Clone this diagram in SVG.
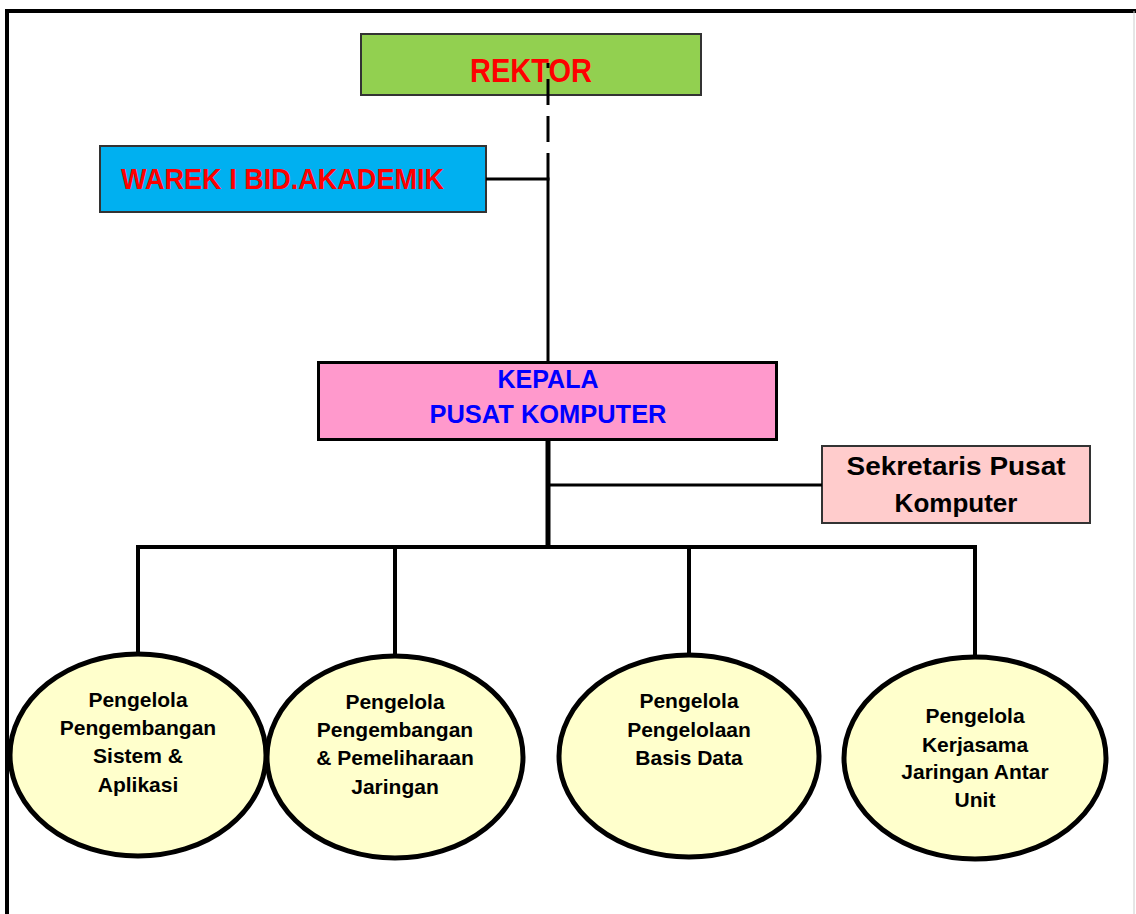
<svg xmlns="http://www.w3.org/2000/svg" width="1136" height="914" viewBox="0 0 1136 914">
<style>
.frame{fill:none;stroke:#000;stroke-width:4}
.conn{fill:none;stroke:#000;stroke-linecap:butt}
.t{font-family:"Liberation Sans",Arial,sans-serif;font-weight:bold;text-anchor:middle}
.red{fill:#FF0000}
.blue{fill:#0000FF}
.blk{fill:#000}
.ell{fill:#FFFFCC;stroke:#000;stroke-width:5}
.et{font-size:21px}
</style>
<rect width="1136" height="914" fill="#fff"/>
<g id="frame">
<path class="frame" d="M7 914 V11 H1136"/>
<line x1="1134" y1="11" x2="1134" y2="914" stroke="#ccc" stroke-width="1"/>
</g>
<g id="rektor">
<rect x="361" y="34" width="340" height="61" fill="#92D050" stroke="#333" stroke-width="2"/>
<text class="t red" x="531" y="82" font-size="34" textLength="122" lengthAdjust="spacingAndGlyphs">REKTOR</text>
</g>
<g id="warek">
<rect x="100" y="146" width="386" height="66" fill="#00B0F0" stroke="#333" stroke-width="2"/>
<text class="t red" x="282.5" y="189" font-size="30" textLength="323" lengthAdjust="spacingAndGlyphs">WAREK I BID.AKADEMIK</text>
</g>
<g id="kepala">
<rect x="318.5" y="362.5" width="458" height="77" fill="#FF99CC" stroke="#000" stroke-width="3"/>
<text class="t blue" x="548" y="388" font-size="25">KEPALA</text>
<text class="t blue" x="548" y="423" font-size="25" textLength="237" lengthAdjust="spacingAndGlyphs">PUSAT KOMPUTER</text>
</g>
<g id="sekretaris">
<rect x="822" y="446" width="268" height="77" fill="#FFCCCC" stroke="#333" stroke-width="2"/>
<text class="t blk" x="956" y="475" font-size="26" textLength="219" lengthAdjust="spacingAndGlyphs">Sekretaris Pusat</text>
<text class="t blk" x="956" y="512" font-size="26">Komputer</text>
</g>
<g id="node1">
<ellipse class="ell" cx="138" cy="755" rx="128" ry="101"/>
<text class="t blk et" x="138" y="707">Pengelola</text>
<text class="t blk et" x="138" y="735">Pengembangan</text>
<text class="t blk et" x="138" y="763">Sistem &amp;</text>
<text class="t blk et" x="138" y="792">Aplikasi</text>
</g>
<g id="node2">
<ellipse class="ell" cx="395" cy="757" rx="128" ry="101"/>
<text class="t blk et" x="395" y="709">Pengelola</text>
<text class="t blk et" x="395" y="737">Pengembangan</text>
<text class="t blk et" x="395" y="765">&amp; Pemeliharaan</text>
<text class="t blk et" x="395" y="794">Jaringan</text>
</g>
<g id="node3">
<ellipse class="ell" cx="689" cy="756" rx="130" ry="101"/>
<text class="t blk et" x="689" y="708">Pengelola</text>
<text class="t blk et" x="689" y="737">Pengelolaan</text>
<text class="t blk et" x="689" y="765">Basis Data</text>
</g>
<g id="node4">
<ellipse class="ell" cx="975" cy="758" rx="131" ry="101"/>
<text class="t blk et" x="975" y="723">Pengelola</text>
<text class="t blk et" x="975" y="752">Kerjasama</text>
<text class="t blk et" x="975" y="779">Jaringan Antar</text>
<text class="t blk et" x="975" y="807">Unit</text>
</g>
<g id="connectors">
<line class="conn" x1="548" y1="63" x2="548" y2="179" stroke-width="3" stroke-dasharray="26 11" stroke-dashoffset="21"/>
<line class="conn" x1="486" y1="179" x2="549.5" y2="179" stroke-width="3"/>
<line class="conn" x1="548" y1="179" x2="548" y2="362" stroke-width="3"/>
<line class="conn" x1="548" y1="441" x2="548" y2="549" stroke-width="5"/>
<line class="conn" x1="548" y1="485" x2="822" y2="485" stroke-width="3"/>
<path class="conn" d="M138 655 V547 H975 V657" stroke-width="4"/>
<line class="conn" x1="395" y1="547" x2="395" y2="656" stroke-width="4"/>
<line class="conn" x1="689" y1="547" x2="689" y2="655" stroke-width="4"/>
</g>
</svg>
